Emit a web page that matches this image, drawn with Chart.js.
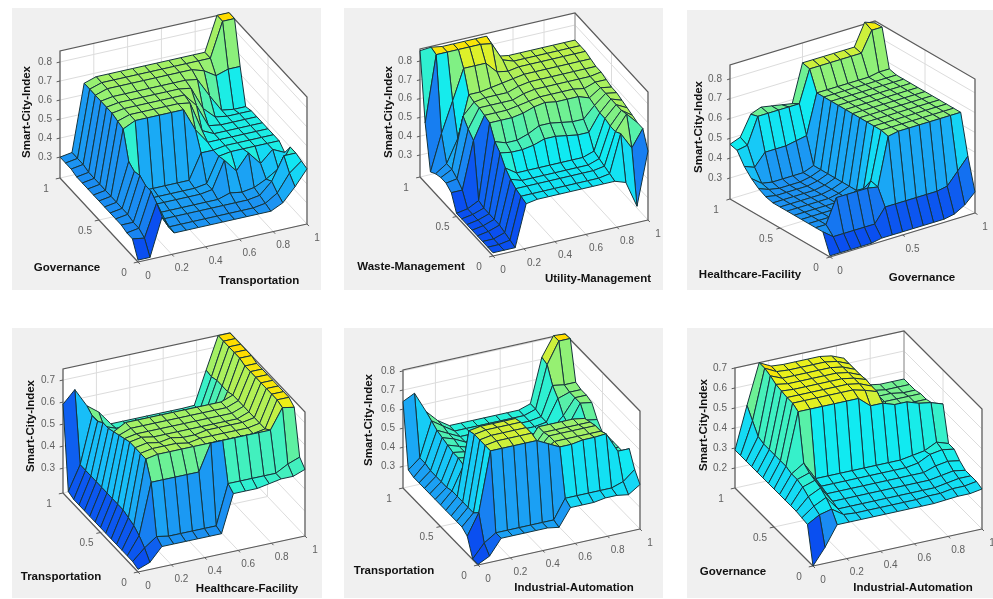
<!DOCTYPE html>
<html lang="en">
<head>
  <meta charset="UTF-8">
  <title>Smart-City-Index surfaces</title>
  <script src="https://cdn.jsdelivr.net/npm/chart.js"></script>
  <style>
    body { margin: 0; background: #ffffff; }
    canvas { position: absolute; background: #f0f0f0; filter: blur(0.4px); }
  </style>
</head>
<body>
  <script>
    // grid positions on the two floor axes
    const fullGrid = [0, .071, .143, .214, .286, .357, .429, .5, .571, .643, .714, .786, .857, .929, 1];

    const ticksFine = [0, .2, .4, .6, .8, 1];
    const ticksCoarse = [0, .5, 1];
    const zTicks38 = [.3, .4, .5, .6, .7, .8];
    const zTicks37 = [.3, .4, .5, .6, .7];
    const zTicks27 = [.2, .3, .4, .5, .6, .7];

    // z values, one row per grid step on the depth axis (front row first)
    const govTransport = [
      [.20, .20, .40, .30, .30, .30, .30, .30, .30, .30, .30, .30, .33, .40, .48],
      [.28, .27, .44, .30, .30, .30, .30, .30, .30, .30, .30, .31, .35, .44, .49],
      [.28, .29, .47, .31, .31, .31, .31, .31, .31, .31, .31, .32, .38, .50, .50],
      [.29, .29, .47, .31, .31, .31, .31, .31, .31, .33, .32, .33, .36, .40, .50],
      [.29, .30, .49, .32, .32, .32, .32, .32, .33, .47, .40, .48, .41, .47, .44],
      [.29, .30, .48, .32, .32, .32, .32, .32, .33, .46, .47, .47, .47, .47, .47],
      [.29, .30, .50, .33, .33, .33, .33, .33, .46, .46, .47, .47, .47, .47, .47],
      [.29, .30, .64, .67, .67, .67, .67, .67, .55, .47, .47, .47, .47, .47, .47],
      [.29, .30, .65, .67, .67, .67, .67, .67, .66, .50, .47, .47, .47, .47, .47],
      [.29, .30, .66, .67, .67, .67, .67, .67, .67, .60, .48, .47, .47, .47, .47],
      [.29, .30, .66, .67, .67, .67, .67, .67, .67, .66, .54, .48, .47, .47, .47],
      [.29, .30, .66, .67, .67, .67, .67, .67, .67, .67, .66, .56, .47, .46, .46],
      [.30, .31, .66, .68, .68, .68, .68, .68, .68, .68, .68, .66, .62, .64, .64],
      [.30, .31, .66, .68, .68, .68, .68, .68, .68, .68, .68, .68, .68, .86, .86],
      [.30, .31, .66, .68, .68, .68, .68, .68, .68, .68, .68, .68, .68, .86, .86]
    ];
    const wasteUtility = [
      [.20, .20, .20, .42, .43, .43, .43, .43, .43, .43, .43, .43, .41, .27, .55],
      [.20, .20, .21, .43, .43, .43, .43, .43, .43, .43, .43, .44, .64, .55, .64],
      [.20, .20, .22, .44, .44, .44, .44, .44, .44, .44, .44, .45, .62, .70, .64],
      [.20, .21, .23, .46, .44, .44, .44, .44, .44, .44, .44, .46, .62, .69, .65],
      [.20, .21, .23, .49, .45, .45, .45, .45, .45, .45, .45, .47, .63, .69, .66],
      [.20, .21, .23, .54, .53, .53, .54, .56, .56, .55, .54, .54, .63, .69, .67],
      [.20, .21, .23, .57, .55, .55, .57, .60, .60, .59, .58, .58, .64, .69, .68],
      [.20, .21, .24, .64, .64, .64, .65, .67, .68, .67, .67, .67, .65, .69, .68],
      [.28, .28, .53, .65, .65, .65, .66, .67, .68, .68, .68, .68, .67, .69, .69],
      [.30, .31, .56, .66, .66, .66, .66, .68, .69, .69, .69, .69, .69, .69, .70],
      [.30, .33, .60, .66, .67, .67, .67, .69, .70, .70, .70, .70, .70, .70, .70],
      [.29, .33, .45, .67, .67, .68, .69, .70, .71, .71, .71, .71, .71, .71, .71],
      [.27, .46, .62, .78, .78, .78, .72, .71, .72, .72, .72, .72, .72, .72, .72],
      [.50, .85, .85, .85, .85, .85, .84, .74, .72, .72, .72, .72, .72, .72, .72],
      [.855, .86, .85, .85, .85, .85, .85, .73, .72, .72, .72, .72, .72, .72, .72]
    ];
    const healthGov = [
      [.20, .20, .20, .20, .20, .21, .21, .21, .21, .21, .21, .21, .22, .25, .30],
      [.30, .26, .26, .26, .26, .26, .33, .33, .33, .33, .33, .33, .34, .40, .46],
      [.30, .30, .42, .42, .42, .42, .41, .65, .66, .66, .66, .66, .66, .66, .66],
      [.30, .30, .30, .30, .30, .31, .42, .66, .66, .66, .66, .66, .66, .66, .66],
      [.30, .30, .30, .30, .30, .31, .36, .66, .66, .66, .66, .66, .66, .66, .66],
      [.30, .30, .30, .30, .30, .31, .33, .66, .66, .66, .66, .66, .66, .66, .66],
      [.30, .30, .30, .30, .30, .31, .33, .66, .66, .66, .66, .66, .66, .66, .66],
      [.30, .30, .30, .30, .30, .31, .33, .66, .66, .66, .66, .66, .66, .66, .66],
      [.30, .30, .30, .30, .30, .31, .33, .66, .66, .66, .66, .66, .66, .66, .66],
      [.31, .30, .30, .30, .30, .31, .33, .66, .66, .66, .66, .66, .66, .66, .66],
      [.33, .31, .30, .30, .30, .31, .33, .66, .66, .66, .66, .66, .66, .66, .66],
      [.36, .32, .31, .31, .31, .31, .33, .66, .66, .66, .66, .66, .66, .66, .66],
      [.40, .38, .44, .44, .44, .45, .46, .66, .66, .66, .66, .66, .66, .67, .67],
      [.46, .47, .60, .60, .60, .60, .60, .76, .76, .76, .76, .76, .76, .86, .86],
      [.47, .49, .59, .61, .60, .59, .58, .77, .77, .77, .77, .77, .77, .88, .86]
    ];
    const transportHealth = [
      [.20, .22, .28, .28, .28, .28, .28, .28, .45, .45, .45, .46, .47, .47, .49],
      [.21, .26, .30, .29, .29, .29, .29, .29, .47, .47, .47, .47, .47, .50, .52],
      [.21, .29, .52, .52, .52, .52, .52, .64, .64, .64, .64, .64, .64, .73, .72],
      [.21, .31, .60, .61, .61, .61, .61, .61, .61, .61, .61, .61, .62, .74, .74],
      [.21, .32, .60, .61, .61, .61, .60, .61, .61, .61, .61, .61, .62, .74, .74],
      [.21, .33, .60, .61, .60, .61, .60, .60, .61, .61, .61, .61, .62, .74, .74],
      [.21, .33, .60, .61, .60, .60, .60, .60, .60, .60, .60, .60, .62, .74, .74],
      [.21, .33, .59, .60, .60, .60, .60, .60, .60, .60, .60, .60, .62, .74, .74],
      [.21, .33, .58, .60, .60, .60, .60, .60, .60, .60, .60, .60, .62, .74, .74],
      [.21, .33, .57, .60, .60, .60, .60, .60, .60, .60, .60, .60, .62, .74, .74],
      [.21, .33, .56, .50, .48, .47, .46, .46, .46, .46, .46, .50, .61, .75, .75],
      [.21, .33, .56, .47, .46, .46, .46, .46, .46, .46, .46, .48, .61, .75, .75],
      [.21, .33, .54, .47, .46, .46, .46, .46, .46, .46, .46, .47, .61, .75, .75],
      [.22, .33, .54, .48, .46, .46, .46, .46, .46, .46, .46, .46, .60, .75, .75],
      [.59, .645, .56, .52, .455, .455, .455, .455, .455, .455, .455, .457, .605, .75, .75]
    ];
    const transportIndustry = [
      [.19, .22, .30, .30, .30, .30, .30, .29, .38, .38, .38, .39, .39, .38, .42],
      [.19, .26, .30, .30, .30, .30, .30, .30, .40, .40, .40, .40, .40, .42, .47],
      [.28, .39, .70, .70, .70, .70, .70, .67, .64, .64, .65, .65, .655, .55, .55],
      [.30, .36, .70, .71, .71, .71, .71, .60, .64, .64, .64, .64, .64, .50, .50],
      [.30, .36, .70, .71, .71, .71, .71, .58, .64, .64, .64, .64, .64, .50, .50],
      [.30, .36, .70, .71, .71, .71, .71, .56, .63, .63, .63, .63, .63, .50, .50],
      [.30, .36, .69, .70, .70, .70, .70, .55, .63, .63, .63, .63, .62, .50, .50],
      [.30, .36, .48, .48, .47, .46, .46, .46, .46, .46, .46, .46, .48, .50, .49],
      [.30, .35, .49, .48, .46, .46, .46, .46, .46, .46, .46, .46, .48, .54, .53],
      [.30, .35, .49, .48, .46, .46, .46, .46, .46, .46, .46, .46, .50, .60, .59],
      [.30, .35, .50, .48, .46, .46, .46, .46, .46, .46, .46, .46, .52, .60, .60],
      [.30, .35, .51, .49, .46, .46, .46, .46, .46, .46, .46, .47, .58, .60, .60],
      [.30, .36, .52, .49, .46, .46, .46, .46, .46, .46, .46, .47, .62, .61, .61],
      [.31, .36, .54, .50, .46, .46, .46, .46, .46, .46, .46, .48, .70, .81, .81],
      [.64, .67, .56, .50, .46, .46, .46, .46, .46, .46, .46, .48, .71, .81, .805]
    ];
    const govIndustry = [
      [.10, .18, .28, .28, .28, .28, .28, .28, .28, .28, .28, .285, .29, .29, .30],
      [.28, .315, .33, .29, .285, .285, .285, .285, .285, .285, .29, .29, .30, .30, .31],
      [.285, .33, .36, .29, .29, .29, .29, .29, .29, .29, .29, .29, .30, .31, .31],
      [.29, .35, .38, .30, .30, .30, .30, .30, .30, .30, .30, .30, .31, .32, .31],
      [.29, .37, .39, .31, .31, .31, .31, .31, .31, .31, .31, .31, .33, .34, .33],
      [.29, .38, .40, .32, .32, .32, .32, .32, .32, .32, .32, .33, .36, .37, .36],
      [.29, .38, .42, .33, .33, .33, .33, .33, .33, .33, .33, .34, .35, .38, .36],
      [.29, .39, .65, .65, .65, .65, .65, .65, .60, .60, .58, .58, .56, .55, .53],
      [.29, .39, .665, .665, .665, .665, .665, .665, .65, .63, .48, .48, .48, .48, .48],
      [.29, .39, .665, .665, .665, .665, .665, .665, .655, .63, .48, .48, .48, .48, .48],
      [.29, .39, .67, .665, .665, .665, .665, .665, .655, .635, .47, .47, .47, .47, .47],
      [.29, .39, .675, .665, .665, .665, .665, .665, .655, .63, .47, .47, .47, .47, .47],
      [.29, .40, .69, .665, .665, .665, .665, .665, .655, .63, .47, .47, .47, .46, .46],
      [.29, .45, .70, .67, .665, .665, .665, .665, .655, .63, .47, .47, .46, .46, .46],
      [.29, .50, .70, .67, .665, .665, .665, .665, .655, .63, .47, .47, .46, .46, .46]
    ];

    // colour stops, low to high
    const colorStops = [
      [0, 10, 79, 240], [.15, 28, 146, 242], [.24, 24, 192, 248], [.32, 20, 220, 244], [.38, 16, 234, 242],
      [.44, 40, 240, 216], [.55, 96, 240, 160], [.7, 152, 240, 112], [.85, 216, 240, 48], [.96, 236, 240, 24], [1, 255, 220, 0]
    ];

    function colorFor(t) {
      let k = 0;
      while (k < colorStops.length - 2 && t > colorStops[k + 1][0]) k++;
      const a = colorStops[k], b = colorStops[k + 1];
      const f = Math.min(1, Math.max(0, (t - a[0]) / (b[0] - a[0])));
      return 'rgb(' + [1, 2, 3].map(c => Math.round(a[c] + (b[c] - a[c]) * f)).join(',') + ')';
    }

    // box is placed by three floor corners, wall height and z limits
    const panels = [
      { rect: [12, 8, 309, 282], origin: [138, 262], uEnd: [307, 224], vEnd: [60, 178], height: 127, zLim: [.19, .858],
        surface: govTransport, uTicks: ticksFine, vTicks: ticksCoarse, zTicks: zTicks38,
        uTitle: ['Transportation', 259, 281], vTitle: ['Governance', 67, 268], zTitle: [27, 112] },
      { rect: [344, 8, 319, 282], origin: [493, 256], uEnd: [648, 220], vEnd: [420, 177], height: 128, zLim: [.183, .864],
        surface: wasteUtility, uTicks: ticksFine, vTicks: ticksCoarse, zTicks: zTicks38,
        uTitle: ['Utility-Management', 598, 279], vTitle: ['Waste-Management', 411, 267], zTitle: [389, 112] },
      { rect: [687, 10, 306, 280], origin: [830, 257], uEnd: [975, 213], vEnd: [730, 199], height: 134, zLim: [.194, .87],
        surface: healthGov, uTicks: ticksCoarse, vTicks: ticksCoarse, zTicks: zTicks38,
        uTitle: ['Governance', 922, 278], vTitle: ['Healthcare-Facility', 750, 275], zTitle: [699, 127] },
      { rect: [12, 328, 310, 270], origin: [138, 572], uEnd: [305, 536], vEnd: [63, 493], height: 124, zLim: [.188, .75],
        surface: transportHealth, uTicks: ticksFine, vTicks: ticksCoarse, zTicks: zTicks37,
        uTitle: ['Healthcare-Facility', 247, 589], vTitle: ['Transportation', 61, 577], zTitle: [31, 426] },
      { rect: [344, 328, 319, 270], origin: [478, 565], uEnd: [640, 529], vEnd: [403, 488], height: 118, zLim: [.187, .805],
        surface: transportIndustry, uTicks: ticksFine, vTicks: ticksCoarse, zTicks: zTicks38,
        uTitle: ['Industrial-Automation', 574, 588], vTitle: ['Transportation', 394, 571], zTitle: [369, 420] },
      { rect: [687, 328, 306, 270], origin: [813, 566], uEnd: [982, 529], vEnd: [735, 488], height: 120, zLim: [.1, .7],
        surface: govIndustry, uTicks: ticksFine, vTicks: ticksCoarse, zTicks: zTicks27,
        uTitle: ['Industrial-Automation', 913, 588], vTitle: ['Governance', 733, 572], zTitle: [704, 425] }
    ];

    function lineSet(points, color, width) {
      return { data: points, showLine: true, pointRadius: 0, borderColor: color, borderWidth: width, fill: false, tension: 0, clip: false };
    }
    function faceSet(points, color, edge) {
      return { data: points, showLine: true, pointRadius: 0, borderColor: edge, borderWidth: edge === color ? 0 : 1, backgroundColor: color, fill: 'shape', tension: 0, clip: false, borderJoinStyle: 'round' };
    }

    function drawPanel(p) {
      const [left, top, width, height] = p.rect;
      const canvas = document.createElement('canvas');
      canvas.width = width;
      canvas.height = height;
      canvas.style.left = left + 'px';
      canvas.style.top = top + 'px';
      document.body.appendChild(canvas);

      // 3D box position to panel position
      const project = (u, v, z) => ({
        x: p.origin[0] + u * (p.uEnd[0] - p.origin[0]) + v * (p.vEnd[0] - p.origin[0]) - left,
        y: p.origin[1] + u * (p.uEnd[1] - p.origin[1]) + v * (p.vEnd[1] - p.origin[1])
          - (z - p.zLim[0]) / (p.zLim[1] - p.zLim[0]) * p.height - top
      });
      const [z0, z1] = p.zLim;
      const datasets = [];
      const flat = p.surface.flat();
      const zMin = Math.min(...flat), zMax = Math.max(...flat);

      // chart.js paints the first dataset last, so nearest faces go first
      p.surface.forEach((row, j) => {
        if (j === p.surface.length - 1) return;
        row.forEach((z, i) => {
          if (i === row.length - 1) return;
          const u0 = fullGrid[i], u1 = fullGrid[i + 1], v0 = fullGrid[j], v1 = fullGrid[j + 1];
          datasets.push(faceSet([
            project(u0, v0, z), project(u1, v0, row[i + 1]),
            project(u1, v1, p.surface[j + 1][i + 1]), project(u0, v1, p.surface[j + 1][i]),
            project(u0, v0, z)
          ], colorFor((z - zMin) / (zMax - zMin)), '#16343c'));
        });
      });

      // box edges and ticks
      const edge = '#5a5a5a';
      datasets.push(lineSet([project(0, 0, z0), project(1, 0, z0)], edge, 1.2));
      datasets.push(lineSet([project(0, 0, z0), project(0, 1, z0)], edge, 1.2));
      p.uTicks.forEach(t => datasets.push(lineSet([project(t, 0, z0), project(t, -.025, z0)], edge, 1)));
      p.vTicks.forEach(t => datasets.push(lineSet([project(0, t, z0), project(-.025, t, z0)], edge, 1)));
      p.zTicks.forEach(t => datasets.push(lineSet([project(0, 1, t), project(-.02, 1, t)], edge, 1)));
      datasets.push(lineSet([project(0, 1, z0), project(0, 1, z1), project(1, 1, z1), project(1, 0, z1), project(1, 0, z0)], edge, 1.2));
      datasets.push(lineSet([project(1, 1, z0), project(1, 1, z1)], '#9a9a9a', 1));

      // wall and floor grid
      const grid = '#dcdcdc';
      p.uTicks.forEach(t => {
        datasets.push(lineSet([project(t, 0, z0), project(t, 1, z0), project(t, 1, z1)], grid, 1));
      });
      p.vTicks.forEach(t => {
        datasets.push(lineSet([project(0, t, z0), project(1, t, z0), project(1, t, z1)], grid, 1));
      });
      p.zTicks.forEach(t => {
        datasets.push(lineSet([project(0, 1, t), project(1, 1, t), project(1, 0, t)], grid, 1));
      });
      datasets.push(faceSet([project(0, 0, z0), project(1, 0, z0), project(1, 1, z0), project(0, 1, z0), project(0, 0, z0)], '#ffffff', '#ffffff'));
      datasets.push(faceSet([project(0, 1, z0), project(1, 1, z0), project(1, 1, z1), project(0, 1, z1), project(0, 1, z0)], '#ffffff', '#ffffff'));
      datasets.push(faceSet([project(1, 1, z0), project(1, 0, z0), project(1, 0, z1), project(1, 1, z1), project(1, 1, z0)], '#ffffff', '#ffffff'));

      const textPlugin = {
        id: 'boxText',
        afterDraw(chart) {
          const ctx = chart.ctx, sx = chart.scales.x, sy = chart.scales.y;
          const put = (text, x, y) => ctx.fillText(text, sx.getPixelForValue(x), sy.getPixelForValue(y));
          ctx.save();
          ctx.textBaseline = 'middle';
          ctx.textAlign = 'center';
          ctx.font = '10px "Liberation Sans"';
          ctx.fillStyle = '#606060';
          p.uTicks.forEach(t => { const q = project(t, 0, z0); put(String(t), q.x + 10, q.y + 14); });
          p.vTicks.forEach(t => { const q = project(0, t, z0); put(String(t), q.x - 14, q.y + 11); });
          p.zTicks.forEach(t => { const q = project(0, 1, t); put(String(t), q.x - 15, q.y); });
          ctx.font = 'bold 11.5px "Liberation Sans"';
          ctx.fillStyle = '#111111';
          put(p.uTitle[0], p.uTitle[1] - left, p.uTitle[2] - top);
          put(p.vTitle[0], p.vTitle[1] - left, p.vTitle[2] - top);
          ctx.translate(sx.getPixelForValue(p.zTitle[0] - left), sy.getPixelForValue(p.zTitle[1] - top));
          ctx.rotate(-Math.PI / 2);
          ctx.fillText('Smart-City-Index', 0, 0);
          ctx.restore();
        }
      };

      new Chart(canvas, {
        type: 'scatter',
        data: { datasets },
        options: {
          responsive: false,
          animation: false,
          events: [],
          layout: { padding: 0 },
          plugins: { legend: { display: false }, tooltip: { enabled: false } },
          scales: {
            x: { type: 'linear', display: false, min: 0, max: width },
            y: { type: 'linear', display: false, min: 0, max: height, reverse: true }
          }
        },
        plugins: [textPlugin]
      });
    }

    panels.forEach(drawPanel);
  </script>
</body>
</html>
